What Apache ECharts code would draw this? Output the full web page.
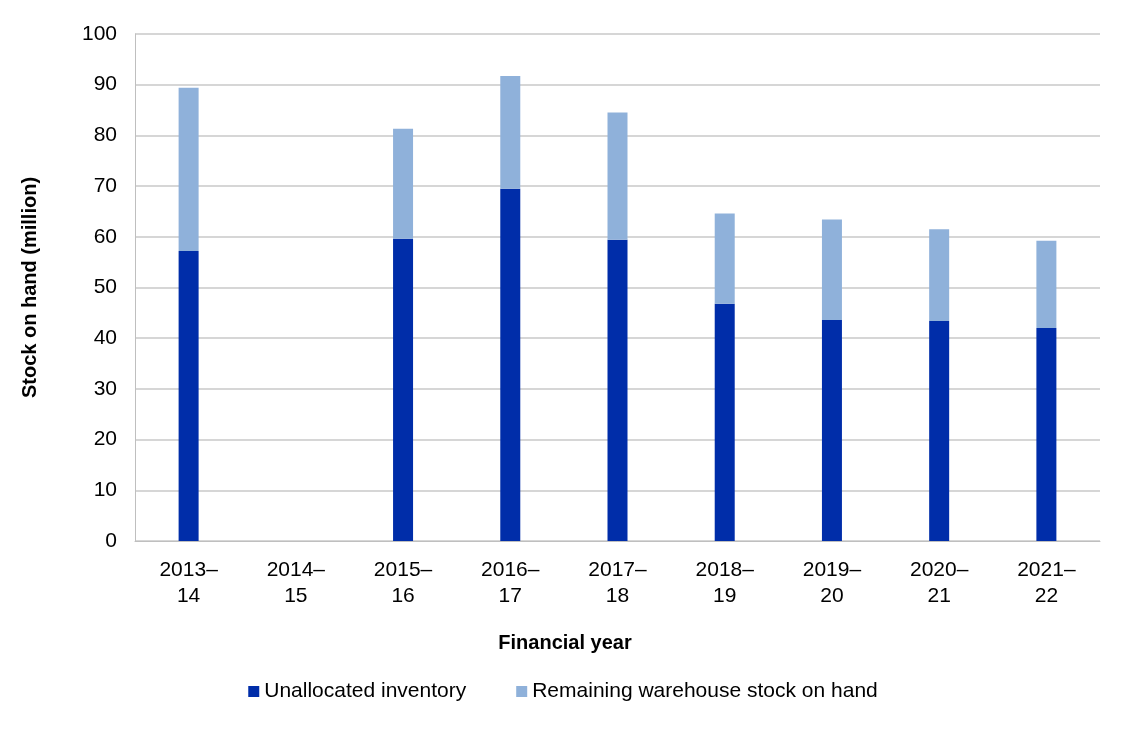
<!DOCTYPE html>
<html>
<head>
<meta charset="utf-8">
<script src="https://cdn.jsdelivr.net/npm/echarts@6/dist/echarts.min.js"></script>
<style>html,body{margin:0;padding:0;background:#fff}#main{width:1126px;height:731px}</style>
</head>
<body>
<div id="main"></div>
<script>
var years = ['2013–\n14', '2014–\n15', '2015–\n16', '2016–\n17', '2017–\n18', '2018–\n19', '2019–\n20', '2020–\n21', '2021–\n22'];
var unallocated = [57.2, null, 59.6, 69.5, 59.4, 46.8, 43.6, 43.4, 42.0];
var remaining = [32.2, null, 21.7, 22.2, 25.1, 17.8, 19.8, 18.1, 17.2];

var font = 'Liberation Sans, Arial, sans-serif';
var myChart = echarts.init(document.getElementById('main'));

myChart.setOption({
    animation: false,
    textStyle: { fontFamily: font },
    grid: { left: 135, right: 26, top: 34, bottom: 190 },
    legend: {
        bottom: 24,
        itemWidth: 11, itemHeight: 11, itemGap: 50,
        icon: 'rect',
        textStyle: { fontSize: 21, color: '#000', fontFamily: font },
        data: ['Unallocated inventory', 'Remaining warehouse stock on hand']
    },
    xAxis: {
        type: 'category',
        data: years,
        name: 'Financial year',
        nameLocation: 'middle',
        nameGap: 92,
        nameTextStyle: { fontSize: 20, fontWeight: 'bold', color: '#000', padding: [0, 105, 0, 0] },
        axisLine: { lineStyle: { color: '#bfbfbf' } },
        axisTick: { show: false },
        axisLabel: { fontSize: 21, color: '#000', margin: 16, lineHeight: 26 }
    },
    yAxis: {
        type: 'value',
        min: 0, max: 100, interval: 10,
        name: 'Stock on hand (million)',
        nameLocation: 'middle',
        nameGap: 95,
        nameTextStyle: { fontSize: 20, fontWeight: 'bold', color: '#000' },
        axisLine: { show: true, lineStyle: { color: '#bfbfbf' } },
        splitLine: { lineStyle: { color: '#c8c8c8', width: 1.5 } },
        axisLabel: { fontSize: 21, color: '#000', margin: 18 }
    },
    series: [{
        name: 'Unallocated inventory',
        type: 'bar',
        stack: 'a',
        barWidth: 20,
        itemStyle: { color: '#002da9' },
        data: unallocated
    }, {
        name: 'Remaining warehouse stock on hand',
        type: 'bar',
        stack: 'a',
        barWidth: 20,
        itemStyle: { color: '#8fb1da' },
        data: remaining
    }]
});
</script>
</body>
</html>
